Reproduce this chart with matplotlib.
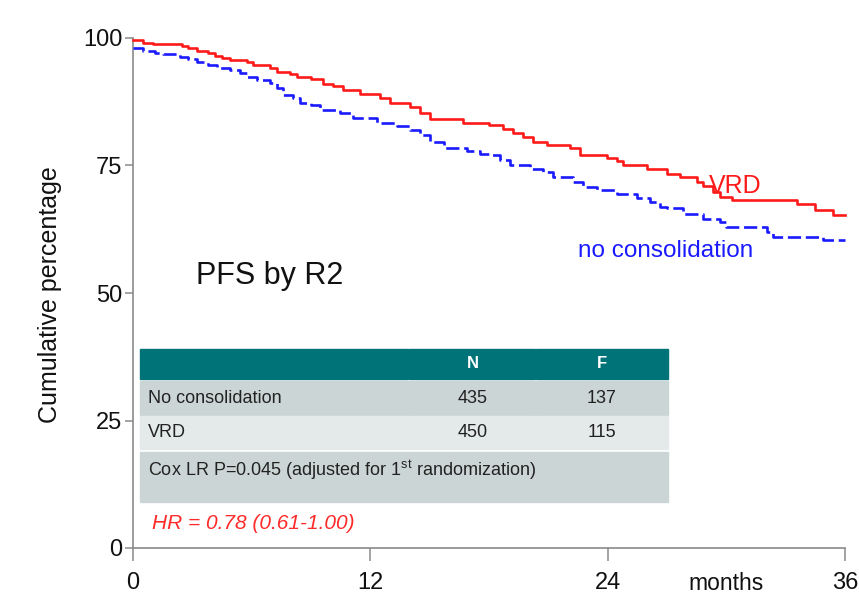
import matplotlib
matplotlib.use("Agg")
import matplotlib.pyplot as plt
from matplotlib.patches import Rectangle

plt.rcParams["font.family"] = ["Liberation Sans", "DejaVu Sans"]
plt.rcParams["mathtext.fontset"] = "custom"
plt.rcParams["mathtext.rm"] = "Liberation Sans"

# Kaplan-Meier step curves (months, cumulative percentage)
vrd_t = [0, 0.52, 1.03, 2.46, 2.8, 3.22, 3.81, 4.15, 4.48, 4.9, 5.75, 6.08,
         6.93, 7.26, 7.94, 8.28, 9.0, 9.62, 10.13, 10.63, 11.48, 12.49,
         12.99, 14.0, 14.5, 15.0, 16.7, 18.0, 18.72, 19.23, 19.73, 20.24,
         20.91, 22.09, 22.6, 23.95, 24.45, 24.79, 25.97, 26.98, 27.65, 28.5,
         28.83, 29.34, 29.68, 30.27, 33.55, 34.48, 35.4, 36.0]
vrd_s = [99.7, 99.1, 98.8, 98.4, 98.0, 97.5, 97.0, 96.5, 96.1, 95.7, 95.2,
         94.7, 94.1, 93.4, 92.9, 92.3, 91.9, 91.0, 90.5, 89.8, 89.0, 88.2,
         87.2, 86.4, 85.2, 84.1, 83.3, 82.9, 82.1, 81.4, 80.5, 79.7, 79.0,
         78.4, 77.1, 76.4, 75.8, 75.0, 74.4, 73.3, 72.8, 71.8, 71.0, 69.9,
         68.9, 68.2, 67.5, 66.3, 65.2, 65.2]

nocons_t = [0, 0.52, 1.11, 1.53, 2.38, 2.8, 3.22, 3.81, 4.23, 4.9, 5.41,
            5.75, 6.25, 6.93, 7.26, 7.6, 8.1, 8.44, 9.0, 9.45, 10.47, 11.14,
            12.32, 13.33, 14.0, 14.5, 15.0, 15.7, 16.87, 17.54, 18.0, 18.55,
            19.06, 20.07, 20.74, 21.25, 22.26, 22.77, 23.44, 24.45, 25.47,
            26.14, 26.64, 27.0, 27.82, 28.83, 29.68, 30.0, 32.04, 32.37, 34.9,
            36.0]
nocons_s = [98.1, 97.5, 97.1, 96.8, 96.3, 95.8, 95.2, 94.7, 94.2, 93.7, 93.1,
            92.4, 91.8, 91.1, 90.1, 88.8, 88.2, 87.2, 86.9, 85.9, 85.2, 84.3,
            83.3, 82.7, 82.0, 81.0, 79.7, 78.4, 77.9, 77.3, 77.1, 76.1, 75.1,
            74.4, 73.8, 72.7, 71.8, 70.7, 70.1, 69.4, 68.6, 67.9, 66.9, 66.6,
            65.5, 64.6, 64.0, 62.9, 62.0, 60.9, 60.4, 60.4]

x_ticks = [0, 12, 24, 36]
y_ticks = [0, 25, 50, 75, 100]

# Summary table content
table_cols = ["N", "F"]
table_rows = ["No consolidation", "VRD"]
table_n = [435, 450]
table_f = [137, 115]
cox_text = r"Cox LR P=0.045 (adjusted for 1$^{\rm st}$ randomization)"
hr_text = "HR = 0.78 (0.61-1.00)"

fig = plt.figure(figsize=(8.59, 6.0), dpi=100)
ax = fig.add_axes([133 / 859, 52 / 600, 712 / 859, 510 / 600])

ax.step(vrd_t, vrd_s, where="post", color="#ff1a1a", lw=1.9, clip_on=False, zorder=3)
ax.step(nocons_t, nocons_s, where="post", color="#1a1aff", lw=1.9,
        dashes=(5, 1.8), clip_on=False, zorder=3)

ax.set_xlim(0, 36)
ax.set_ylim(0, 100)
ax.set_xticks(x_ticks)
ax.set_yticks(y_ticks)

spine_col = "#8a8a8a"
for side in ("top", "right"):
    ax.spines[side].set_visible(False)
for side in ("left", "bottom"):
    ax.spines[side].set_color(spine_col)
    ax.spines[side].set_linewidth(1.2)
ax.tick_params(axis="y", length=6, width=1.1, color=spine_col, pad=1.5,
               labelsize=17, labelcolor="#111111")
ax.tick_params(axis="x", length=9.5, width=1.1, color=spine_col, pad=8,
               labelsize=17, labelcolor="#111111")

fig.text(50 / 859, 1 - 295 / 600, "Cumulative percentage", rotation=90,
         ha="center", va="center", fontsize=18, color="#111111")
ax.text(30.0, -6.9, "months", ha="center", va="center", fontsize=16.5,
        color="#111111", clip_on=False)

ax.text(3.2, 53.3, "PFS by R2", ha="left", va="center", fontsize=22, color="#111111")
ax.text(29.1, 70.9, "VRD", ha="left", va="center", fontsize=18, color="#ff1a1a")
ax.text(22.5, 58.2, "no consolidation", ha="left", va="center", fontsize=17.5,
        color="#1a1aff")

# Table drawn in data coordinates
teal = "#007378"
row_dark = "#ccd5d5"
row_light = "#e4e9e9"
col_x = [0.35, 13.95, 20.37, 27.05]
gap = 0.06
ax.add_patch(Rectangle((col_x[0], 33.1), col_x[1] - col_x[0] - gap, 5.9, color=teal, zorder=2))
ax.add_patch(Rectangle((col_x[1], 33.1), col_x[2] - col_x[1] - gap, 5.9, color=teal, zorder=2))
ax.add_patch(Rectangle((col_x[2], 33.1), col_x[3] - col_x[2], 5.9, color=teal, zorder=2))
row_bounds = [(26.1, 32.7, row_dark), (19.4, 25.9, row_light)]
for (y0, y1, c) in row_bounds:
    for i in range(3):
        w = col_x[i + 1] - col_x[i] - (gap if i < 2 else 0)
        ax.add_patch(Rectangle((col_x[i], y0), w, y1 - y0, color=c, zorder=2))
ax.add_patch(Rectangle((col_x[0], 9.0), col_x[3] - col_x[0], 9.8, color=row_dark, zorder=2))

cx_n = (col_x[1] + col_x[2]) / 2
cx_f = (col_x[2] + col_x[3]) / 2
ax.text(cx_n, 36.1, table_cols[0], ha="center", va="center", fontsize=12,
        fontweight="bold", color="white", zorder=4)
ax.text(cx_f, 36.1, table_cols[1], ha="center", va="center", fontsize=12,
        fontweight="bold", color="white", zorder=4)
for yc, name, n, f in zip([29.4, 22.7], table_rows, table_n, table_f):
    ax.text(0.75, yc, name, ha="left", va="center", fontsize=13, color="#222222", zorder=4)
    ax.text(cx_n, yc, str(n), ha="center", va="center", fontsize=13, color="#222222", zorder=4)
    ax.text(cx_f, yc, str(f), ha="center", va="center", fontsize=13, color="#222222", zorder=4)
ax.text(0.75, 15.3, cox_text, ha="left", va="center", fontsize=13, color="#222222", zorder=4)

ax.text(0.95, 4.9, hr_text, ha="left", va="center", fontsize=15, style="italic",
        color="#ff2a2a")

fig.savefig("out.png", dpi=100)
